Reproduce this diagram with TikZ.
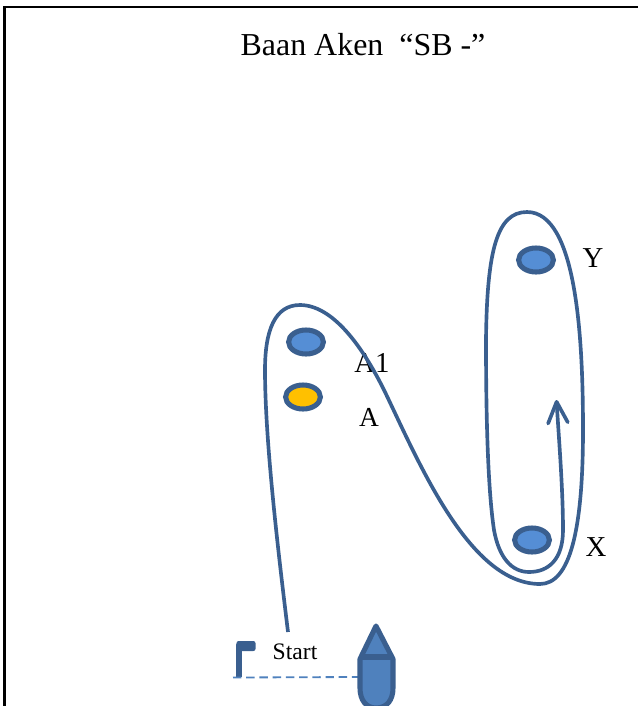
\documentclass[tikz,border=0pt]{standalone}
\usepackage{fontspec}
\setmainfont{Liberation Serif}
\usetikzlibrary{shapes.geometric,arrows.meta}
\definecolor{lineblue}{HTML}{3A5F8F}
\definecolor{buoyblue}{HTML}{558ED5}
\definecolor{boatblue}{HTML}{4F81BD}
\definecolor{buoyyellow}{HTML}{FFC000}
\begin{document}
\begin{tikzpicture}[x=0.025cm,y=-0.025cm,
    buoy/.style={ellipse,draw=lineblue,line width=3.6pt,fill=buoyblue,minimum width=0.87cm,minimum height=0.6cm,inner sep=0pt},
    course/.style={draw=lineblue,line width=2.6pt},
    lbl/.style={font=\fontsize{20.5pt}{24pt}\selectfont,inner sep=0pt}]
    \useasboundingbox (0,0) rectangle (638,706);

    %frame
    \draw [line width=1.5pt] (4.5,706) -- (4.5,7) -- (638,7);
    \node[font=\fontsize{22.7pt}{26pt}\selectfont,inner sep=0pt] (title) at (363,45) {Baan Aken\ \ “SB -”};

    %buoys
    \node[buoy] (Y) at (536,260) {};
    \node[buoy] (A1) at (306,342) {};
    \node[buoy,fill=buoyyellow] (A) at (303,397) {};
    \node[buoy] (X) at (532,540) {};
    \node[lbl] (Y label) at (593,258) {Y};
    \node[lbl] (A1 label) at (372,363) {A1};
    \node[lbl,font=\fontsize{19.5pt}{24pt}\selectfont] (A label) at (369,417) {A};
    \node[lbl] (X label) at (596,547) {X};

    %course
    \coordinate (start line) at (288,632);
    \coordinate (course end) at (556.5,400);
    \draw[course,-{Straight Barb[length=15pt,width=14pt,line width=2.6pt,round]}] (start line)
        .. controls (278,550) and (265,440) .. (265,370)
        .. controls (265,330) and (275,305) .. (300,305)
        .. controls (332,305) and (362,345) .. (385,392)
        .. controls (420,465) and (470,584) .. (540,584)
        .. controls (570,584) and (583,530) .. (583,430)
        .. controls (583,340) and (577,212) .. (527,212)
        .. controls (497,212) and (487,250) .. (486,340)
        .. controls (486,420) and (488,490) .. (494,530)
        .. controls (499,558) and (512,572) .. (529,572)
        .. controls (548,572) and (563,560) .. (563,530)
        .. controls (563,490) and (559,440) .. (course end);

    %start flag and boat
    \node[font=\fontsize{16.8pt}{20pt}\selectfont,inner sep=0pt] (start) at (295,652) {Start};
    \coordinate (flag foot) at (239,677);
    \coordinate (boat side) at (358,677);
    \draw [line width=3.8pt,draw=lineblue,line join=round] (flag foot) -- (239,645) -- (252,645);
    \fill [lineblue,rounded corners=1.5pt] (236.5,641) rectangle (255.5,651);
    \draw [line width=1.3pt,draw=boatblue,dashed,dash pattern=on 6pt off 3.4pt] (233,677.5) -- (boat side);
    \draw [line width=3.6pt,draw=lineblue,fill=boatblue,line join=round] (376,626) -- (393,659) -- (393,688)
        .. controls (393,700) and (387,708) .. (376,708)
        .. controls (366,708) and (360,700) .. (360,688) -- (360,659) -- cycle;
    \draw [line width=3.6pt,draw=lineblue] (360,657) -- (393,657);
\end{tikzpicture}
\end{document}
